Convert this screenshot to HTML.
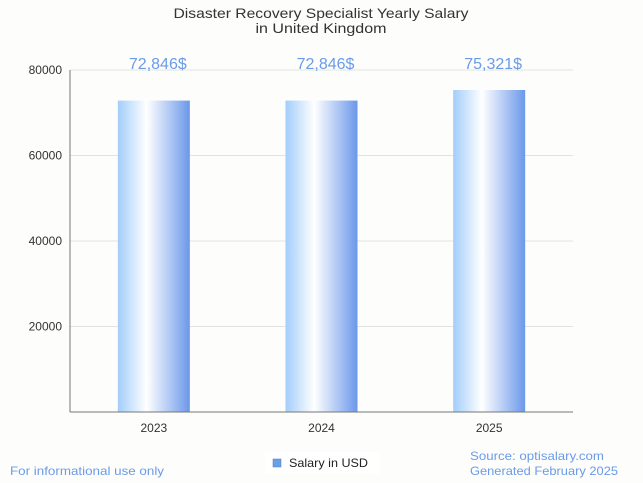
<!DOCTYPE html>
<html><head><meta charset="utf-8"><style>
body{margin:0;background:#fdfdfb;font-family:"Liberation Sans",sans-serif;}
svg{display:block}
</style></head><body>
<svg id="chart" width="643" height="483">
<defs>
<linearGradient id="bg" x1="0" x2="1" y1="0" y2="0">
<stop offset="0" stop-color="#a3cdfb"/>
<stop offset="0.4" stop-color="#ffffff"/>
<stop offset="1" stop-color="#6b98ea"/>
</linearGradient>
</defs>
<text x="321" y="18" text-anchor="middle" font-size="14" fill="#333" textLength="295" lengthAdjust="spacingAndGlyphs">Disaster Recovery Specialist Yearly Salary</text>
<text x="321" y="33" text-anchor="middle" font-size="14" fill="#333" textLength="131" lengthAdjust="spacingAndGlyphs">in United Kingdom</text>
<g id="grid"></g>
<g id="bars"></g>
<line x1="70" y1="70" x2="70" y2="412" stroke="#777"/>
<line x1="70" y1="412" x2="573" y2="412" stroke="#777"/>
<rect x="265" y="452" width="115" height="22" fill="#fff"/>
<rect x="273" y="459" width="8" height="8" fill="#6aa0e8" stroke="#4a78c0" stroke-width="0.5"/>
<text x="289" y="467" font-size="12" fill="#222" textLength="79" lengthAdjust="spacingAndGlyphs">Salary in USD</text>
<text x="10" y="475" font-size="12" fill="#6a9be8" textLength="154" lengthAdjust="spacingAndGlyphs">For informational use only</text>
<text x="470" y="460" font-size="12" fill="#6a9be8" textLength="134" lengthAdjust="spacingAndGlyphs">Source: optisalary.com</text>
<text x="470" y="475" font-size="12" fill="#6a9be8" textLength="148" lengthAdjust="spacingAndGlyphs">Generated February 2025</text>
</svg>
<script>
const categories=["2023","2024","2025"];
const salaries=[72846,72846,75321];
const valueLabels=["72,846$","72,846$","75,321$"];
const yTicks=[20000,40000,60000,80000];
const ns="http://www.w3.org/2000/svg";
const x0=70,x1=573,y0=412,y1=70,yMax=80000;
const y=v=>y0-(v/yMax)*(y0-y1);
const band=(x1-x0)/categories.length;
const xc=i=>x0+band*(i+0.5);
const grid=document.getElementById('grid'),bars=document.getElementById('bars');
function mk(t,a,p){const e=document.createElementNS(ns,t);for(const k in a)e.setAttribute(k,a[k]);p.appendChild(e);return e;}
yTicks.forEach(v=>{
 const l=mk('line',{x1:x0,x2:x1,y1:y(v),y2:y(v),stroke:'#e2e2e2'},grid);
 
 
 const t=mk('text',{x:x0-8,y:y(v)+4,'text-anchor':'end','font-size':12,fill:'#333'},grid);
 t.textContent=v;
 
 
});
categories.forEach((c,i)=>{
 const r=mk('rect',{x:xc(i)-36,y:y(salaries[i]),width:72,height:y0-y(salaries[i]),fill:'url(#bg)'},bars);
 
 
 const v=mk('text',{x:xc(i)+4,y:y(80000)-1,'text-anchor':'middle','font-size':16,fill:'#6a9be8'},bars);
 v.textContent=valueLabels[i];
 
 
 const t=mk('text',{x:xc(i),y:y0+20,'text-anchor':'middle','font-size':12,fill:'#333'},bars);
 t.textContent=c;
 
 
});
</script>
</body></html>
